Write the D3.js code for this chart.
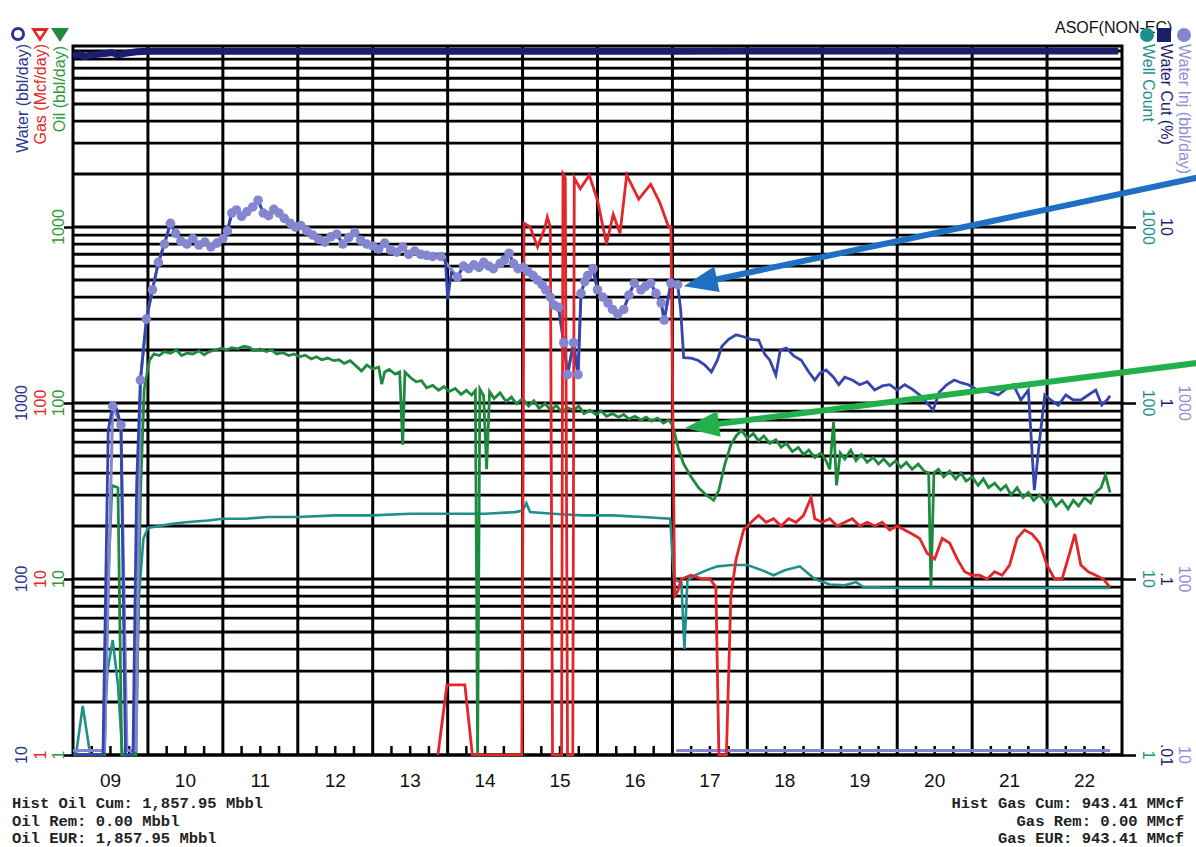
<!DOCTYPE html>
<html><head><meta charset="utf-8">
<script src="https://cdn.jsdelivr.net/npm/d3@7"></script>
<style>body{margin:0;background:#fff}svg{display:block}</style>
</head><body><svg id="c" width="1196" height="847"></svg>
<script>
// ---------------- DATA ----------------
const yearLabels = ["09","10","11","12","13","14","15","16","17","18","19","20","21","22"];

const oil = [
[2009.0,1],[2009.42,1],[2009.47,10],[2009.52,34],[2009.6,33],[2009.65,1],
[2009.84,1],[2009.9,30],[2009.95,120],[2010.02,175],[2010.08,190],[2010.15,186],[2010.22,196],[2010.3,192],[2010.38,200],[2010.45,186],[2010.52,192],[2010.6,190],[2010.68,198],[2010.75,188],[2010.82,196],[2010.9,200],[2010.98,205],[2011.05,200],[2011.12,206],[2011.2,203],[2011.28,210],[2011.35,207],[2011.42,198],[2011.5,203],[2011.58,196],[2011.65,200],[2011.72,190],[2011.8,193],[2011.88,186],[2011.95,190],[2012.02,183],[2012.1,187],[2012.18,178],[2012.25,183],[2012.32,176],[2012.4,180],[2012.48,174],[2012.55,176],[2012.62,168],[2012.7,174],[2012.78,162],[2012.85,152],[2012.92,164],[2013.0,156],[2013.08,160],[2013.12,128],[2013.16,150],[2013.22,155],[2013.3,146],[2013.36,150],[2013.4,58],[2013.43,150],[2013.5,140],[2013.58,132],[2013.65,134],[2013.72,122],[2013.8,126],[2013.88,118],[2013.95,124],[2014.02,116],[2014.1,121],[2014.18,112],[2014.25,118],[2014.32,111],[2014.37,118],[2014.4,1],[2014.43,120],[2014.48,110],[2014.52,42],[2014.56,116],[2014.62,106],[2014.7,114],[2014.78,102],[2014.85,108],[2014.92,99],[2015.0,106],[2015.08,96],[2015.15,103],[2015.22,93],[2015.3,99],[2015.38,91],[2015.45,97],[2015.52,89],[2015.6,94],[2015.68,91],[2015.75,96],[2015.82,87],[2015.9,91],[2015.98,86],[2016.05,90],[2016.12,84],[2016.2,87],[2016.28,83],[2016.35,86],[2016.42,81],[2016.5,84],[2016.58,80],[2016.65,83],[2016.72,79],[2016.8,82],[2016.88,77],[2016.95,80],[2017.0,75],[2017.08,55],[2017.15,45],[2017.25,38],[2017.35,33],[2017.45,30],[2017.55,28],[2017.62,32],[2017.7,45],[2017.78,58],[2017.85,65],[2017.92,70],[2018.0,63],[2018.08,67],[2018.15,61],[2018.22,65],[2018.3,59],[2018.38,62],[2018.45,56],[2018.52,59],[2018.6,53],[2018.68,56],[2018.75,51],[2018.82,54],[2018.9,49],[2018.98,52],[2019.05,47],[2019.1,42],[2019.15,78],[2019.19,34],[2019.24,52],[2019.3,48],[2019.38,54],[2019.45,47],[2019.52,51],[2019.6,46],[2019.68,49],[2019.75,45],[2019.82,48],[2019.9,44],[2019.98,47],[2020.05,43],[2020.12,46],[2020.2,42],[2020.28,45],[2020.36,41],[2020.42,40],[2020.45,9],[2020.49,40],[2020.55,42],[2020.62,38],[2020.7,41],[2020.78,37],[2020.85,40],[2020.92,36],[2021.0,38],[2021.08,34],[2021.15,37],[2021.22,33],[2021.3,35],[2021.38,32],[2021.45,34],[2021.52,30],[2021.6,33],[2021.68,29],[2021.75,31],[2021.82,28],[2021.9,30],[2021.98,27],[2022.05,29],[2022.12,26],[2022.2,28],[2022.28,25],[2022.35,28],[2022.42,26],[2022.5,29],[2022.58,27],[2022.65,31],[2022.72,33],[2022.78,39],[2022.84,31]
];

const gas = [
[2013.87,1],[2013.99,2.5],[2014.1,2.5],[2014.23,2.5],[2014.33,1],
[2014.99,1],[2015.02,1050],[2015.1,1000],[2015.2,770],[2015.3,1000],[2015.33,1140],[2015.37,1000],[2015.4,1],[2015.52,1],[2015.54,2000],[2015.57,1900],[2015.6,1],[2015.67,1],[2015.69,1900],[2015.77,1650],[2015.89,1970],[2016.0,1420],[2016.12,800],[2016.21,1180],[2016.3,920],[2016.39,1970],[2016.55,1440],[2016.71,1750],[2016.83,1380],[2016.95,1000],[2016.98,1000],
[2017.03,8],[2017.07,8.5],[2017.12,10],[2017.25,10.5],[2017.4,10],[2017.5,10],[2017.58,9],[2017.62,1],[2017.72,1],[2017.78,8],[2017.85,13],[2017.95,19],[2018.05,21],[2018.15,23],[2018.25,21],[2018.35,22],[2018.45,20],[2018.55,22],[2018.65,21],[2018.75,23],[2018.85,29],[2018.9,22],[2019.0,21],[2019.1,22],[2019.2,20],[2019.3,21],[2019.4,22],[2019.5,20],[2019.6,21],[2019.7,20],[2019.8,21],[2019.9,19],[2020.0,20],[2020.1,19],[2020.2,18],[2020.3,17],[2020.4,14],[2020.5,13],[2020.6,17],[2020.7,16],[2020.8,13],[2020.9,11],[2021.0,10.5],[2021.1,10.5],[2021.2,10],[2021.3,11],[2021.4,10.5],[2021.5,12],[2021.6,17],[2021.7,19],[2021.8,18],[2021.9,16],[2022.0,12],[2022.1,10],[2022.2,10],[2022.3,14],[2022.37,18],[2022.45,12],[2022.55,11],[2022.65,10.5],[2022.75,10],[2022.84,9]
];

const wellCount = [
[2009.0,1],[2009.04,1],[2009.13,1.9],[2009.23,1],[2009.40,1],[2009.46,3],[2009.53,4.5],[2009.6,2.5],[2009.66,1],[2009.82,1],[2009.88,8],[2009.94,17],[2010.0,19.5],[2010.15,20],[2010.3,20.5],[2010.5,21],[2010.8,21.5],[2011.0,22],[2011.3,22],[2011.6,22.5],[2012.0,22.5],[2012.5,23],[2013.0,23],[2013.5,23.5],[2014.0,23.5],[2014.5,23.5],[2014.9,24],[2015.0,24.5],[2015.05,27],[2015.1,24],[2015.4,23.5],[2015.8,23],[2016.2,23],[2016.6,22.5],[2016.97,22],[2017.02,10],[2017.12,9.5],[2017.16,4],[2017.2,9.8],[2017.3,10.5],[2017.45,11.2],[2017.6,11.8],[2017.8,12],[2018.0,12],[2018.2,11.2],[2018.35,10.5],[2018.5,11.2],[2018.7,11.8],[2018.9,10],[2019.1,9.3],[2019.3,9.2],[2019.45,9.6],[2019.55,9],[2020.0,8.9],[2021.0,8.9],[2022.0,8.9],[2022.84,8.9]
];

const waterInjEarly = [[2009.0,10.6],[2009.42,10.6],[2009.53,960],[2009.64,750],[2009.72,10.6],[2009.84,10.6]];
const waterInjDots = [
[2009.90,1350],[2009.98,3000],[2010.06,4400],[2010.14,6300],[2010.22,8000],[2010.30,10500],[2010.37,9200],[2010.44,8300],[2010.52,8000],[2010.60,8600],[2010.68,7900],[2010.76,8200],[2010.84,7700],[2010.92,8100],[2011.00,8600],[2011.06,9500],[2011.12,12000],[2011.18,12500],[2011.25,11500],[2011.32,12200],[2011.40,13000],[2011.47,14200],[2011.54,12000],[2011.61,11600],[2011.68,12600],[2011.75,12000],[2011.82,11200],[2011.90,10500],[2011.97,10000],[2012.04,10200],[2012.12,9500],[2012.20,9000],[2012.28,8500],[2012.36,8200],[2012.44,8800],[2012.52,9100],[2012.60,8000],[2012.68,8700],[2012.76,9300],[2012.84,8400],[2012.92,8000],[2013.00,7800],[2013.08,7500],[2013.16,8100],[2013.24,7400],[2013.32,7200],[2013.40,7700],[2013.48,7000],[2013.56,7300],[2013.64,7000],[2013.72,6900],[2013.80,6800],[2013.91,6800],[2014.13,5200],[2014.21,6000],[2014.28,5800],[2014.35,6100],[2014.42,5900],[2014.48,6300],[2014.55,6000],[2014.61,5800],[2014.70,6200],[2014.76,6500],[2014.82,7100],[2014.88,6200],[2014.94,5800],[2015.01,5900],[2015.07,5600],[2015.14,5300],[2015.20,5000],[2015.26,4700],[2015.31,4400],[2015.37,4000],[2015.42,3600],[2015.48,3500],[2015.55,2200],[2015.60,1450],[2015.68,2200],[2015.74,1450],[2015.78,4200],[2015.83,4900],[2015.87,5300],[2015.94,5800],[2016.00,4400],[2016.07,4000],[2016.14,3700],[2016.20,3400],[2016.27,3200],[2016.35,3400],[2016.42,4100],[2016.49,4800],[2016.58,4400],[2016.64,4600],[2016.71,4800],[2016.78,4200],[2016.85,3700],[2016.89,2960],[2016.98,4800],[2017.07,4700]
];
const waterInjLate = [[2017.05,10.6],[2022.84,10.6]];

const waterEarly = [[2009.0,10],[2009.40,10],[2009.47,700],[2009.53,960],[2009.58,930],[2009.64,750],[2009.7,10],[2009.8,10],[2009.85,350]];
const waterDip = [[2013.97,6500],[2014.0,3900],[2014.05,5500]];
const waterLate = [
[2017.11,3380],[2017.15,1810],[2017.25,1800],[2017.34,1750],[2017.43,1650],[2017.52,1500],[2017.6,1750],[2017.66,2100],[2017.75,2300],[2017.85,2440],[2017.95,2380],[2018.05,2300],[2018.15,2280],[2018.23,1900],[2018.3,1750],[2018.38,1440],[2018.44,2000],[2018.52,2050],[2018.62,1850],[2018.72,1750],[2018.82,1500],[2018.9,1350],[2018.97,1480],[2019.05,1540],[2019.15,1400],[2019.22,1270],[2019.3,1400],[2019.4,1350],[2019.5,1270],[2019.6,1320],[2019.7,1185],[2019.8,1250],[2019.9,1270],[2020.0,1185],[2020.1,1270],[2020.2,1200],[2020.3,1110],[2020.4,1000],[2020.48,912],[2020.56,1150],[2020.66,1270],[2020.76,1350],[2020.86,1300],[2020.95,1270],[2021.05,1200],[2021.15,1185],[2021.25,1150],[2021.35,1110],[2021.45,1200],[2021.55,1270],[2021.65,1040],[2021.75,1185],[2021.83,320],[2021.9,616],[2021.97,1110],[2022.05,1040],[2022.15,970],[2022.25,1110],[2022.35,1040],[2022.45,1040],[2022.55,1110],[2022.65,1185],[2022.73,974],[2022.8,1040],[2022.84,1100]
];

const waterCut = [[2009.0,94],[2009.08,96],[2009.15,93],[2009.25,95],[2009.35,96],[2009.45,97],[2009.52,98],[2009.6,95],[2009.7,97],[2009.85,99],[2010.0,99.6],[2011.0,99.8],[2012.0,99.8],[2013.0,99.7],[2014.0,99.8],[2015.0,99.7],[2016.0,99.8],[2017.0,99.8],[2018.0,99.9],[2019.0,99.9],[2020.0,99.9],[2021.0,99.9],[2022.0,99.9],[2022.95,99.9]];

const waterTicks = [10,100,1000];
const gasTicks = [1,10,100];
const oilTicks = [1,10,100,1000];
const injTicks = [10,100,1000];
const cutTicks = [0.01,0.1,1,10];
const cutTickLabels = [".01",".1","1","10"];
const wellTicks = [1,10,100,1000];

const footLeft = ["Hist Oil Cum: 1,857.95 Mbbl","Oil Rem: 0.00 Mbbl","Oil EUR: 1,857.95 Mbbl"];
const footRight = ["Hist Gas Cum: 943.41 MMcf","Gas Rem: 0.00 MMcf","Gas EUR: 943.41 MMcf"];

// annotation arrows (tip anchored to data coords)
const arrows = [
  {t:2017.15, v:4600, scale:"water", color:"#1f6fc2", tail:[1205,176]},
  {t:2017.17, v:72, scale:"oil", color:"#22b04b", tail:[1205,362]}
];

// ---------------- COLOURS ----------------
const C = {water:"#3446ad", waterLbl:"#2b3690", gas:"#e3262a", oil:"#1e8a3e", oilLbl:"#2f9a3a",
  well:"#1f8f8c", inj:"#8486d0", injLbl:"#8f90d6", cut:"#1d1d6e"};

// ---------------- SCALES ----------------
const L=73,R=1122,T=46,B=755,TOP=51;
const svg=d3.select("#c");
const x=d3.scaleLinear().domain([2009,2023]).range([L,R]);
const yOil=d3.scaleLog().domain([1,1e4]).range([B,TOP]).clamp(true);
const yGas=d3.scaleLog().domain([1,1e4]).range([B,TOP]).clamp(true);
const yWell=d3.scaleLog().domain([1,1e4]).range([B,TOP]).clamp(true);
const yWater=d3.scaleLog().domain([10,1e5]).range([B,TOP]).clamp(true);
const yInj=d3.scaleLog().domain([10,1e5]).range([B,TOP]).clamp(true);
const yCut=d3.scaleLog().domain([0.01,100]).range([B,TOP]).clamp(true);
const scales={oil:yOil,water:yWater};

svg.append("rect").attr("width",1196).attr("height",847).attr("fill","#fff");

// ---------------- GRID ----------------
const grid=svg.append("g");
const hv=[];
for(let d=0;d<4;d++) for(let k=1;k<=9;k++) hv.push(k*Math.pow(10,d));
hv.push(1e4);
grid.selectAll("line.h").data(hv).join("line")
  .attr("x1",L).attr("x2",R).attr("y1",d=>yOil(d)).attr("y2",d=>yOil(d))
  .attr("stroke","#000").attr("stroke-width",2.8);
const yrs=d3.range(2010,2023);
grid.selectAll("line.v").data(yrs).join("line")
  .attr("x1",d=>x(d)).attr("x2",d=>x(d)).attr("y1",T).attr("y2",B)
  .attr("stroke","#000").attr("stroke-width",3);
// quarter ticks
const q=[];
d3.range(2009,2023).forEach(yy=>[0.25,0.5,0.75].forEach(f=>q.push(yy+f)));
grid.selectAll("line.q").data(q).join("line")
  .attr("x1",d=>x(d)).attr("x2",d=>x(d)).attr("y1",B).attr("y2",B-9)
  .attr("stroke","#000").attr("stroke-width",2.5);

// axes tick marks
svg.append("g").attr("transform",`translate(${L},0)`)
  .call(d3.axisLeft(yOil).tickValues([1,10,100,1000]).tickSize(9).tickFormat(""))
  .call(g=>{g.select(".domain").remove();g.selectAll("line").attr("stroke-width",2.5);});
svg.append("g").attr("transform",`translate(${R},0)`)
  .call(d3.axisRight(yOil).tickValues([1,10,100,1000]).tickSize(14).tickFormat(""))
  .call(g=>{g.select(".domain").remove();g.selectAll("line").attr("stroke-width",2.5);});

// frame
svg.append("rect").attr("x",L).attr("y",T).attr("width",R-L).attr("height",B-T)
  .attr("fill","none").attr("stroke","#000").attr("stroke-width",3);

// ---------------- DATA LINES ----------------
svg.append("clipPath").attr("id","clip").append("rect").attr("x",L).attr("y",T-2).attr("width",R-L).attr("height",B-T+3);
const layer=svg.append("g").attr("clip-path","url(#clip)");
const line=(sc)=>d3.line().defined(d=>d!=null).x(d=>x(d[0])).y(d=>sc(d[1]));

layer.append("path").datum(waterCut).attr("d",line(yCut)).attr("fill","none").attr("stroke",C.cut).attr("stroke-width",7);
layer.append("path").datum(wellCount).attr("d",line(yWell)).attr("fill","none").attr("stroke",C.well).attr("stroke-width",2.6);
layer.append("path").datum(oil).attr("d",line(yOil)).attr("fill","none").attr("stroke",C.oil).attr("stroke-width",2.8);
const injLine=waterInjEarly.concat(waterInjDots,[null],waterInjLate);
layer.append("path").datum(injLine).attr("d",line(yInj)).attr("fill","none").attr("stroke",C.inj).attr("stroke-width",3);
const water=waterEarly.concat(waterInjDots,waterDip,waterLate).sort((a,b)=>a[0]-b[0]);
layer.append("path").datum(water).attr("d",line(yWater)).attr("fill","none").attr("stroke",C.water).attr("stroke-width",2.8);
layer.append("path").datum(gas).attr("d",line(yGas)).attr("fill","none").attr("stroke",C.gas).attr("stroke-width",2.8);
const dots=waterInjEarly.concat(waterInjDots).filter(d=>d[1]>11);
layer.selectAll("circle.inj").data(dots).join("circle")
  .attr("cx",d=>x(d[0])).attr("cy",d=>yInj(d[1])).attr("r",4.8).attr("fill",C.inj);

// ---------------- TEXT ----------------
const F="'Liberation Sans', Arial, sans-serif";
function vtext(xp,yp,txt,color,rot,anchor,size){
  svg.append("text").attr("transform",`translate(${xp},${yp}) rotate(${rot})`)
    .attr("text-anchor",anchor).attr("dominant-baseline","central")
    .attr("font-family",F).attr("font-size",size||16).attr("fill",color).text(txt);
}
// left tick labels
waterTicks.forEach(v=>vtext(21,yWater(v),String(v),C.waterLbl,-90,"middle"));
gasTicks.forEach(v=>vtext(40,yGas(v),String(v),C.gas,-90,"middle"));
oilTicks.forEach(v=>vtext(58,yOil(v),String(v),C.oilLbl,-90,"middle"));
// right tick labels
injTicks.forEach(v=>vtext(1184,yInj(v),String(v),C.injLbl,90,"middle"));
cutTicks.forEach((v,i)=>vtext(1166,yCut(v),cutTickLabels[i],C.cut,90,"middle"));
wellTicks.forEach(v=>vtext(1148,yWell(v),String(v),C.well,90,"middle"));
// axis titles
vtext(22,44,"Water (bbl/day)",C.waterLbl,-90,"end");
vtext(40,44,"Gas (Mcf/day)",C.gas,-90,"end");
vtext(59,46,"Oil (bbl/day)",C.oilLbl,-90,"end");
vtext(1184,44,"Water Inj (bbl/day)",C.injLbl,90,"start");
vtext(1166,44,"Water Cut (%)",C.cut,90,"start");
vtext(1148,44,"Well Count",C.well,90,"start");

svg.append("text").attr("x",1055).attr("y",33).attr("font-family",F).attr("font-size",16).attr("fill","#111").text("ASOF(NON-EC)");
// legend markers
svg.append("circle").attr("cx",18).attr("cy",34).attr("r",5.5).attr("fill","#fff").attr("stroke",C.waterLbl).attr("stroke-width",3);
svg.append("path").attr("d","M31,28 L49,28 L40,42 Z").attr("fill",C.gas);
svg.append("path").attr("d","M36,31 L44,31 L40,37 Z").attr("fill","#fff");
svg.append("path").attr("d","M51,28 L69,28 L60,42 Z").attr("fill",C.oil);
svg.append("circle").attr("cx",1147).attr("cy",35).attr("r",7).attr("fill",C.well);
svg.append("rect").attr("x",1157).attr("y",28).attr("width",14).attr("height",14).attr("fill",C.cut);
svg.append("circle").attr("cx",1184).attr("cy",35).attr("r",7).attr("fill",C.inj);

// x labels
svg.selectAll("text.yr").data(yearLabels).join("text")
  .attr("x",(d,i)=>x(2009+i+0.5)).attr("y",787).attr("text-anchor","middle")
  .attr("font-family",F).attr("font-size",19).attr("fill","#111").text(d=>d);

// footers
const M="'Liberation Mono','DejaVu Sans Mono',monospace";
footLeft.forEach((s,i)=>svg.append("text").attr("x",12).attr("y",808+i*17.5)
  .attr("font-family",M).attr("font-size",15.5).attr("font-weight","bold").attr("fill","#222").text(s));
footRight.forEach((s,i)=>svg.append("text").attr("x",1184).attr("y",808+i*17.5).attr("text-anchor","end")
  .attr("font-family",M).attr("font-size",15.5).attr("font-weight","bold").attr("fill","#222").text(s));

// ---------------- ARROWS ----------------
arrows.forEach(a=>{
  const tx=x(a.t), ty=scales[a.scale](a.v);
  const dx=a.tail[0]-tx, dy=a.tail[1]-ty, len=Math.hypot(dx,dy), ux=dx/len, uy=dy/len;
  const hl=34, hw=13;
  const bx=tx+ux*hl, by=ty+uy*hl;
  svg.append("line").attr("x1",a.tail[0]).attr("y1",a.tail[1]).attr("x2",bx-ux*2).attr("y2",by-uy*2)
    .attr("stroke",a.color).attr("stroke-width",6);
  svg.append("path").attr("d",`M${tx},${ty} L${bx-uy*hw},${by+ux*hw} L${bx+uy*hw},${by-ux*hw} Z`).attr("fill",a.color);
});
</script></body></html>
